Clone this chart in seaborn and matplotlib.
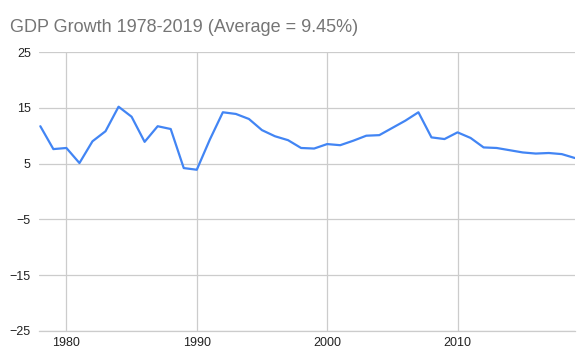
import matplotlib
matplotlib.use("Agg")
import matplotlib.pyplot as plt
import seaborn as sns
import pandas as pd

years = list(range(1978, 2020))
growth = [11.7, 7.6, 7.8, 5.1, 9.0, 10.8, 15.2, 13.4, 8.9, 11.7, 11.2, 4.2, 3.9,
          9.3, 14.2, 13.9, 13.0, 11.0, 9.9, 9.2, 7.8, 7.7, 8.5, 8.3, 9.1, 10.0,
          10.1, 11.4, 12.7, 14.2, 9.7, 9.4, 10.6, 9.6, 7.9, 7.8, 7.4, 7.0, 6.8,
          6.9, 6.7, 6.0]
y_ticks = [-25, -15, -5, 5, 15, 25]
x_ticks = [1980, 1990, 2000, 2010]
title = "GDP Growth 1978-2019 (Average = 9.45%)"

sns.set_theme(style="white")
plt.rcParams['font.family'] = ['Liberation Sans', 'DejaVu Sans']

df = pd.DataFrame({"year": years, "growth": growth})

fig = plt.figure(figsize=(5.86, 3.63), dpi=100)
ax = fig.add_axes([0.0666, 0.0882, 0.9144, 0.7685])
sns.lineplot(data=df, x="year", y="growth", ax=ax, color="#4285F4", linewidth=1.6)

ax.set_xlim(1977.9, 2019)
ax.set_ylim(-25, 25)
ax.set_yticks(y_ticks)
ax.set_xticks(x_ticks)
ax.set_xlabel("")
ax.set_ylabel("")
ax.grid(True, color="#cccccc", linewidth=0.9)
ax.set_axisbelow(True)
for s in ["top", "right", "left"]:
    ax.spines[s].set_visible(False)
ax.spines["bottom"].set_color("#cccccc")
ax.spines["bottom"].set_linewidth(0.9)
ax.tick_params(axis="both", length=0, labelsize=9, colors="#222222", pad=4)
ax.tick_params(axis="y", pad=6)

fig.text(0.017, 0.925, title, fontsize=13, color="#757575", va="center", ha="left")

fig.savefig("out.png", dpi=100)
